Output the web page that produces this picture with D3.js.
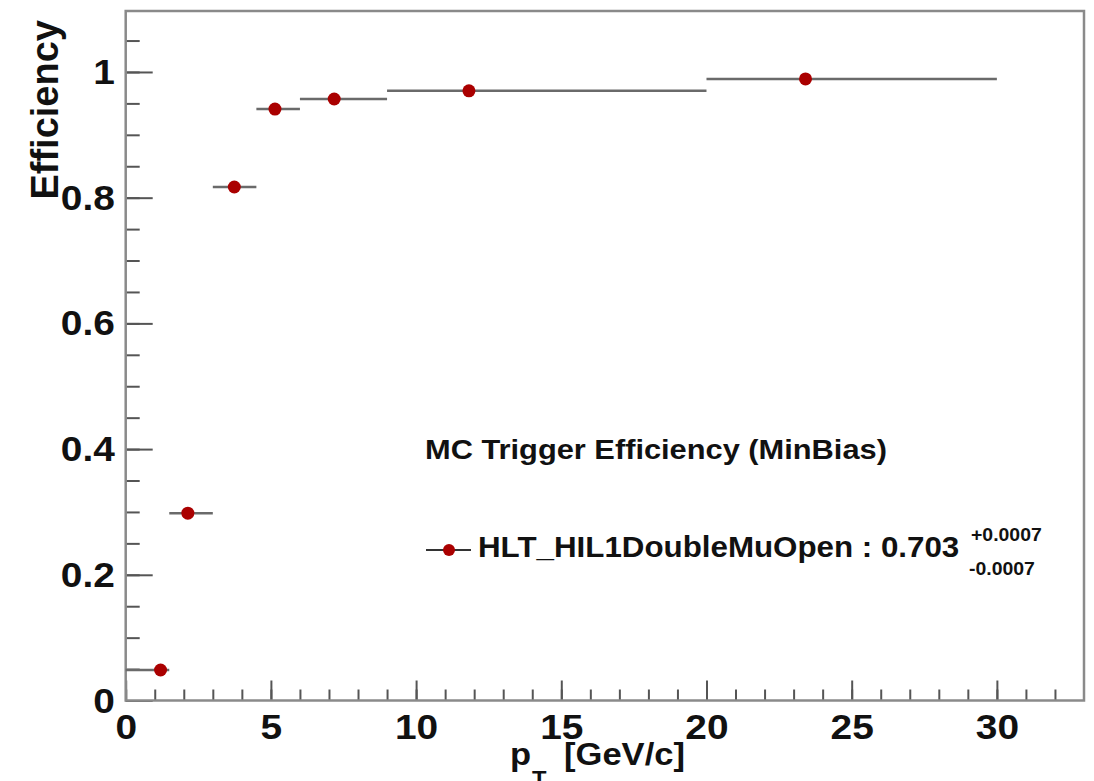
<!DOCTYPE html>
<html>
<head>
<meta charset="utf-8">
<script src="https://cdn.jsdelivr.net/npm/d3@7"></script>
<style>
  body { margin: 0; background: #fff; }
  text { font-family: "Liberation Sans", Arial, Helvetica, sans-serif; font-weight: bold; fill: #111; }
</style>
</head>
<body>
<div id="chart"></div>
<script>
// data
var binLow  = [0, 1.5, 3, 4.5, 6, 9, 20];
var binHigh = [1.5, 3, 4.5, 6, 9, 20, 30];
var ptMean  = [1.20, 2.14, 3.74, 5.14, 7.18, 11.82, 23.41];
var effVal  = [0.0485, 0.298, 0.817, 0.941, 0.957, 0.970, 0.989];

var xMajor = [0, 5, 10, 15, 20, 25, 30];
var yMajor = [0, 0.2, 0.4, 0.6, 0.8, 1];

var legendTitle = "MC Trigger Efficiency (MinBias)";
var legendEntry = "HLT_HIL1DoubleMuOpen : 0.703";
var errUp = "+0.0007", errDown = "-0.0007";

var W = 1094, H = 781;
var frame = {left: 125.7, right: 1084, top: 11, bottom: 700.5};
var stretch = 1.08;   // the picture is a bit wide, text too

var svg = d3.select("#chart").append("svg")
    .attr("width", W)
    .attr("height", H);

var x = d3.scaleLinear().domain([0, 33]).range([frame.left, frame.right]);
var y = d3.scaleLinear().domain([0, 1.097]).range([frame.bottom, frame.top]);

var fmt = function(d){ return String(+d.toFixed(1)); };

// minor ticks
svg.append("g")
    .attr("transform", "translate(0," + frame.bottom + ")")
    .call(d3.axisBottom(x).tickValues(d3.range(0, 33)).tickSize(-11).tickFormat(""))
    .call(function(g){ g.select(".domain").remove(); });
svg.append("g")
    .attr("transform", "translate(" + frame.left + ",0)")
    .call(d3.axisLeft(y).tickValues(d3.range(0, 22).map(function(i){ return i * 0.05; })).tickSize(-14).tickFormat(""))
    .call(function(g){ g.select(".domain").remove(); });

// major ticks + labels
var xAxis = svg.append("g")
    .attr("transform", "translate(0," + frame.bottom + ")")
    .call(d3.axisBottom(x).tickValues(xMajor).tickSize(-20).tickPadding(13).tickFormat(fmt));
var yAxis = svg.append("g")
    .attr("transform", "translate(" + frame.left + ",0)")
    .call(d3.axisLeft(y).tickValues(yMajor).tickSize(-27).tickPadding(10).tickFormat(fmt));

[xAxis, yAxis].forEach(function(g){
  g.select(".domain").remove();
  g.selectAll("text")
    .style("font-size", "36px")
    .attr("fill", "#111")
    .attr("transform", "scale(" + stretch + ",1)");
});
svg.selectAll(".tick line").attr("stroke", "#555").attr("stroke-width", 2);

// frame
svg.append("rect")
    .attr("x", frame.left).attr("y", frame.top)
    .attr("width", frame.right - frame.left)
    .attr("height", frame.bottom - frame.top)
    .attr("fill", "none")
    .attr("stroke", "#8a8a8a")
    .attr("stroke-width", 2.5);

// axis titles
svg.append("text")
    .attr("transform", "translate(58,20) rotate(-90)")
    .attr("text-anchor", "end")
    .style("font-size", "38px")
    .text("Efficiency");

svg.append("text")
    .attr("transform", "translate(510,765) scale(" + stretch + ",1)")
    .style("font-size", "32px")
    .text("p");
svg.append("text")
    .attr("transform", "translate(532,786) scale(" + stretch + ",1)")
    .style("font-size", "22px")
    .text("T");
svg.append("text")
    .attr("transform", "translate(564,765) scale(" + stretch + ",1)")
    .style("font-size", "32px")
    .text("[GeV/c]");

// error bars and points
var pts = ptMean.map(function(p, i){
  return {pt: p, eff: effVal[i], lo: binLow[i], hi: binHigh[i]};
});

svg.append("g").selectAll("line")
    .data(pts)
  .enter().append("line")
    .attr("x1", function(d){ return x(d.lo); })
    .attr("x2", function(d){ return x(d.hi); })
    .attr("y1", function(d){ return y(d.eff); })
    .attr("y2", function(d){ return y(d.eff); })
    .attr("stroke", "#6a6a6a")
    .attr("stroke-width", 2.5);

svg.append("g").selectAll("circle")
    .data(pts)
  .enter().append("circle")
    .attr("cx", function(d){ return x(d.pt); })
    .attr("cy", function(d){ return y(d.eff); })
    .attr("r", 6.5)
    .attr("fill", "#aa0000");

// legend
svg.append("text")
    .attr("transform", "translate(425,459) scale(1.1,1)")
    .style("font-size", "28px")
    .text(legendTitle);

svg.append("line")
    .attr("x1", 426).attr("x2", 471)
    .attr("y1", 550).attr("y2", 550)
    .attr("stroke", "#333")
    .attr("stroke-width", 2);
svg.append("circle")
    .attr("cx", 449).attr("cy", 550)
    .attr("r", 6)
    .attr("fill", "#aa0000");

svg.append("text")
    .attr("transform", "translate(478,557) scale(" + stretch + ",1)")
    .style("font-size", "29px")
    .text(legendEntry);
svg.append("text")
    .attr("transform", "translate(971,541) scale(" + stretch + ",1)")
    .style("font-size", "18px")
    .text(errUp);
svg.append("text")
    .attr("transform", "translate(969,575) scale(" + stretch + ",1)")
    .style("font-size", "18px")
    .text(errDown);
</script>
</body>
</html>
